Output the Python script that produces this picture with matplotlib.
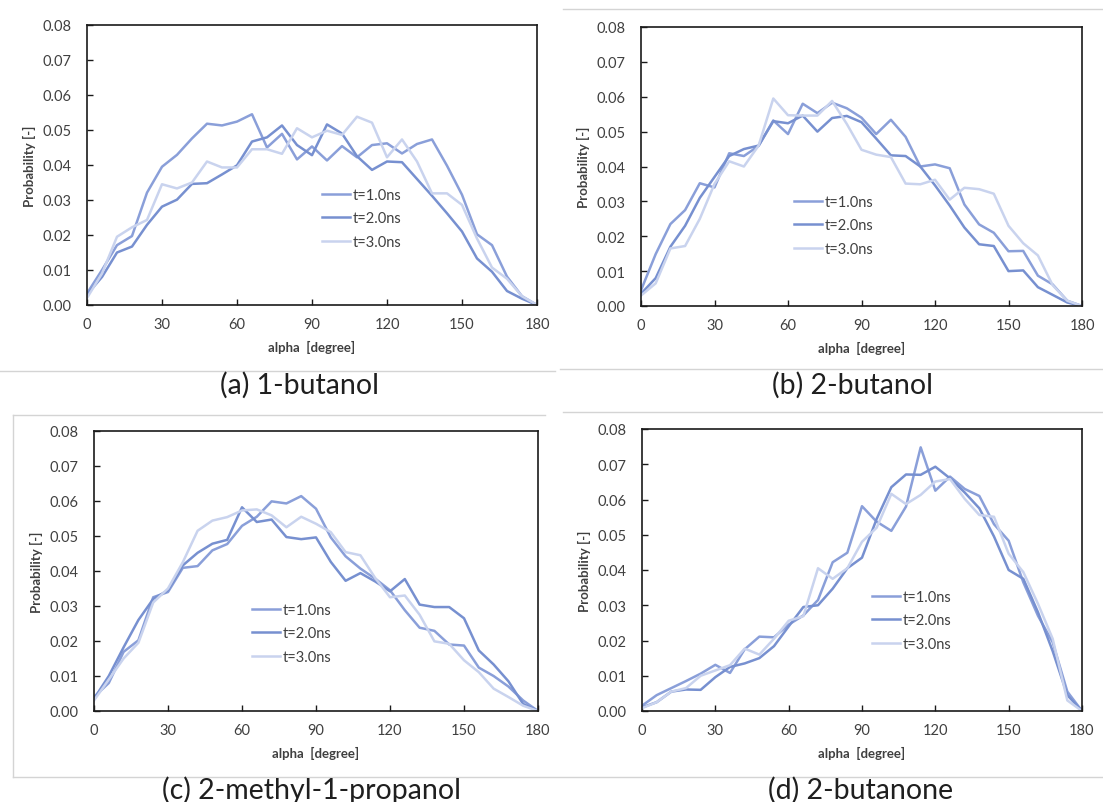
import matplotlib
matplotlib.use("Agg")
import matplotlib.pyplot as plt
from matplotlib.lines import Line2D

plt.rcParams['font.family'] = ['Lato', 'DejaVu Sans']

# angle bins (degree)
alpha = [0, 6, 12, 18, 24, 30, 36, 42, 48, 54, 60, 66, 72, 78, 84, 90,
         96, 102, 108, 114, 120, 126, 132, 138, 144, 150, 156, 162, 168, 174, 180]
labels = ["t=1.0ns", "t=2.0ns", "t=3.0ns"]

# (a) 1-butanol
a_t1 = [0.0033, 0.0100, 0.0171, 0.0197, 0.0321, 0.0395, 0.0429, 0.0476, 0.0518, 0.0513, 0.0524,
        0.0545, 0.0450, 0.0489, 0.0416, 0.0453, 0.0413, 0.0454, 0.0422, 0.0457, 0.0462, 0.0433,
        0.0460, 0.0473, 0.0398, 0.0315, 0.0202, 0.0171, 0.0081, 0.0025, 0.0000]
a_t2 = [0.0030, 0.0080, 0.0150, 0.0167, 0.0229, 0.0281, 0.0301, 0.0346, 0.0348, 0.0373, 0.0399,
        0.0467, 0.0479, 0.0513, 0.0457, 0.0428, 0.0516, 0.0490, 0.0425, 0.0386, 0.0410, 0.0408,
        0.0360, 0.0312, 0.0262, 0.0210, 0.0133, 0.0095, 0.0040, 0.0018, 0.0000]
a_t3 = [0.0020, 0.0090, 0.0195, 0.0222, 0.0243, 0.0345, 0.0333, 0.0350, 0.0410, 0.0393, 0.0393,
        0.0445, 0.0445, 0.0432, 0.0505, 0.0479, 0.0498, 0.0486, 0.0538, 0.0521, 0.0422, 0.0473,
        0.0410, 0.0319, 0.0319, 0.0286, 0.0190, 0.0107, 0.0075, 0.0025, 0.0000]

# (b) 2-butanol
b_t1 = [0.0045, 0.0149, 0.0235, 0.0275, 0.0352, 0.0340, 0.0438, 0.0430, 0.0459, 0.0532, 0.0493,
        0.0580, 0.0553, 0.0583, 0.0567, 0.0540, 0.0493, 0.0534, 0.0485, 0.0400, 0.0406, 0.0395,
        0.0291, 0.0234, 0.0210, 0.0157, 0.0158, 0.0087, 0.0062, 0.0015, 0.0000]
b_t2 = [0.0035, 0.0080, 0.0170, 0.0230, 0.0310, 0.0370, 0.0430, 0.0450, 0.0460, 0.0530, 0.0524,
        0.0546, 0.0500, 0.0539, 0.0545, 0.0527, 0.0480, 0.0432, 0.0430, 0.0400, 0.0346, 0.0288,
        0.0225, 0.0177, 0.0172, 0.0100, 0.0102, 0.0054, 0.0032, 0.0010, 0.0000]
b_t3 = [0.0030, 0.0065, 0.0165, 0.0172, 0.0250, 0.0350, 0.0415, 0.0400, 0.0460, 0.0595, 0.0547,
        0.0546, 0.0546, 0.0588, 0.0522, 0.0448, 0.0434, 0.0427, 0.0351, 0.0349, 0.0362, 0.0305,
        0.0339, 0.0335, 0.0322, 0.0230, 0.0180, 0.0145, 0.0060, 0.0015, 0.0000]

# (c) 2-methyl-1-propanol
c_t1 = [0.0040, 0.0080, 0.0169, 0.0202, 0.0325, 0.0340, 0.0409, 0.0414, 0.0459, 0.0477, 0.0529,
        0.0555, 0.0599, 0.0593, 0.0614, 0.0578, 0.0496, 0.0442, 0.0407, 0.0378, 0.0345, 0.0288,
        0.0238, 0.0229, 0.0190, 0.0187, 0.0124, 0.0100, 0.0070, 0.0030, 0.0000]
c_t2 = [0.0035, 0.0100, 0.0182, 0.0260, 0.0320, 0.0345, 0.0416, 0.0452, 0.0478, 0.0489, 0.0582,
        0.0540, 0.0547, 0.0497, 0.0491, 0.0496, 0.0426, 0.0372, 0.0394, 0.0370, 0.0342, 0.0377,
        0.0304, 0.0297, 0.0297, 0.0265, 0.0173, 0.0133, 0.0085, 0.0020, 0.0000]
c_t3 = [0.0030, 0.0090, 0.0150, 0.0195, 0.0310, 0.0350, 0.0425, 0.0515, 0.0544, 0.0554, 0.0573,
        0.0576, 0.0559, 0.0525, 0.0555, 0.0535, 0.0511, 0.0454, 0.0445, 0.0380, 0.0325, 0.0330,
        0.0275, 0.0199, 0.0192, 0.0145, 0.0111, 0.0064, 0.0040, 0.0015, 0.0000]

# (d) 2-butanone
d_t1 = [0.0015, 0.0045, 0.0065, 0.0085, 0.0106, 0.0131, 0.0108, 0.0175, 0.0211, 0.0209, 0.0245,
        0.0271, 0.0315, 0.0422, 0.0449, 0.0581, 0.0537, 0.0511, 0.0580, 0.0748, 0.0625, 0.0665,
        0.0630, 0.0610, 0.0530, 0.0483, 0.0365, 0.0270, 0.0195, 0.0055, 0.0000]
d_t2 = [0.0010, 0.0025, 0.0055, 0.0061, 0.0060, 0.0096, 0.0125, 0.0135, 0.0150, 0.0184, 0.0240,
        0.0295, 0.0300, 0.0347, 0.0405, 0.0435, 0.0545, 0.0635, 0.0671, 0.0670, 0.0693, 0.0660,
        0.0620, 0.0575, 0.0495, 0.0400, 0.0375, 0.0280, 0.0170, 0.0045, 0.0000]
d_t3 = [0.0008, 0.0025, 0.0055, 0.0065, 0.0100, 0.0115, 0.0130, 0.0177, 0.0160, 0.0205, 0.0256,
        0.0269, 0.0405, 0.0375, 0.0405, 0.0480, 0.0520, 0.0616, 0.0587, 0.0613, 0.0651, 0.0658,
        0.0602, 0.0556, 0.0551, 0.0446, 0.0394, 0.0304, 0.0205, 0.0030, 0.0000]

colors = ["#8A9FD9", "#7790D0", "#C9D3EE"]
W, H = 1103, 803

# panel: title, series, axes box in pixels (left, top, right, bottom), legend anchor, title centre
panels = [
    ("(a) 1-butanol", [a_t1, a_t2, a_t3], (87, 26, 537, 306), (0.522, 0.418), (300, 385)),
    ("(b) 2-butanol", [b_t1, b_t2, b_t3], (641, 28, 1082, 307), (0.347, 0.398), (853, 385)),
    ("(c) 2-methyl-1-propanol", [c_t1, c_t2, c_t3], (94, 432, 538, 712), (0.356, 0.386), (311, 790)),
    ("(d) 2-butanone", [d_t1, d_t2, d_t3], (642, 430, 1082, 712), (0.523, 0.430), (861, 790)),
]

fig = plt.figure(figsize=(W / 100, H / 100), dpi=100)

for title, series, (l, t, r, b), leg_xy, (tx, ty) in panels:
    ax = fig.add_axes([l / W, 1 - b / H, (r - l) / W, (b - t) / H])
    for y, c, lab in zip(series, colors, labels):
        ax.plot(alpha, y, color=c, lw=1.8, label=lab)
    ax.set_xlim(0, 180)
    ax.set_ylim(0, 0.08)
    ax.set_xticks([0, 30, 60, 90, 120, 150, 180])
    ax.set_yticks([0, 0.01, 0.02, 0.03, 0.04, 0.05, 0.06, 0.07, 0.08])
    ax.yaxis.set_major_formatter(plt.FormatStrFormatter("%.2f"))
    ax.tick_params(direction="in", length=4, width=1, colors="#1a1a1a",
                   labelcolor="#404040", labelsize=10.5)
    ax.tick_params(axis="y", pad=11)
    ax.tick_params(axis="x", pad=9)
    for s in ax.spines.values():
        s.set_color("#1a1a1a")
        s.set_linewidth(1.2)
    ax.set_xlabel("alpha  [degree]", fontsize=9.5, fontweight="bold", color="#404040", labelpad=6)
    ax.set_ylabel("Probability [-]", fontsize=9.5, fontweight="bold", color="#404040", labelpad=5)
    leg = ax.legend(loc="upper left", bbox_to_anchor=leg_xy, frameon=False, fontsize=10.5,
                    handlelength=1.9, handletextpad=0.2, labelspacing=0.65,
                    borderpad=0, borderaxespad=0)
    for txt in leg.get_texts():
        txt.set_color("#404040")
    fig.text(tx / W, 1 - ty / H, title, fontsize=20.5, color="#1f1f1f", ha="center", va="center")

# thin grey frames between the sub-figures
sep = "#D4D4D4"
for (x0, y0, x1, y1) in [(0, 372, 555, 372), (563, 10, 1103, 10), (560, 370, 1103, 370),
                         (13, 416, 545, 416), (13, 416, 13, 778), (13, 778, 1103, 778),
                         (563, 413, 1103, 413)]:
    fig.add_artist(Line2D([x0 / W, x1 / W], [1 - y0 / H, 1 - y1 / H], color=sep, lw=1,
                          transform=fig.transFigure, zorder=0))

fig.savefig("out.png", dpi=100)
